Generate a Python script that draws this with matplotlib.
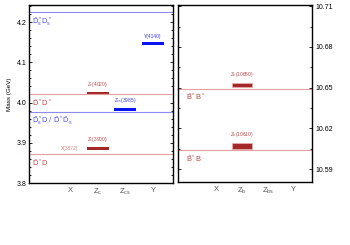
import numpy as np
import matplotlib.pyplot as plt
from matplotlib.ticker import MultipleLocator, FormatStrFormatter

plt.rcParams['font.family'] = ['Liberation Sans', 'DejaVu Sans']
plt.rcParams['mathtext.fontset'] = 'custom'
plt.rcParams['mathtext.rm'] = 'Liberation Sans'
plt.rcParams['mathtext.it'] = 'Liberation Sans'

# categories
charm_cats = ['X', r'$Z_c$', r'$Z_{cs}$', 'Y']
bottom_cats = ['X', r'$Z_b$', r'$Z_{bs}$', 'Y']

# thresholds (GeV)
charm_thr_names = [r'$\bar{D}^*_sD^*_s$', r'$\bar{D}^*D^*$', r'$\bar{D}^*_sD\ /\ \bar{D}^*\bar{D}_s$', r'$\bar{D}^*D$']
charm_thr_mass = [4.2244, 4.0201, 3.9773, 3.8719]
charm_thr_kind = ['s', 'n', 's', 'n']

bottom_thr_names = [r'$\bar{B}^*B^*$', r'$\bar{B}^*B$']
bottom_thr_mass = [10.6494, 10.6041]

# states
charm_states = ['X(3872)', r'$Z_c$(3900)', r'$Z_c$(4020)', r'$Z_{cs}$(3985)', 'Y(4140)']
charm_state_cat = [0, 1, 1, 2, 3]
charm_state_mass = [3.8717, 3.8866, 4.0229, 3.9825, 4.1465]
charm_state_err = [0.0012, 0.0035, 0.0028, 0.0035, 0.003]
charm_state_kind = ['x', 'n', 'n', 's', 's']

bottom_states = [r'$Z_b$(10610)', r'$Z_b$(10650)']
bottom_state_cat = [1, 1]
bottom_state_mass = [10.6072, 10.6522]
bottom_state_err = [0.0021, 0.0016]

line_col = {'s': '#8c8cf0', 'n': '#e4a0a0'}
txt_col = {'s': '#5050f0', 'n': '#c04848'}
bar_col = {'s': '#0a14f0', 'n': '#a52828', 'x': '#e8b0b0'}
lab_col = {'s': '#3a3ae8', 'n': '#c04848', 'x': '#d08080'}

fig = plt.figure(figsize=(3.5, 2.45), dpi=100)
ax1 = fig.add_axes([0.083, 0.253, 0.411, 0.727])
ax2 = fig.add_axes([0.509, 0.257, 0.383, 0.723])

xpos = np.arange(1, 5)

for ax in (ax1, ax2):
    ax.set_xlim(-0.48, 4.72)
    ax.tick_params(axis='y', which='both', direction='in', left=True, right=True,
                   labelsize=5, width=0.6, pad=2)
    ax.tick_params(axis='y', which='major', length=2.2)
    ax.tick_params(axis='y', which='minor', length=1.2)
    ax.tick_params(axis='x', length=0, labelsize=5.5, labelcolor='#555555', pad=3)
    ax.set_xticks(xpos)
    for s in ax.spines.values():
        s.set_linewidth(1.0)

# left panel
ax1.set_ylim(3.8, 4.2425)
ax1.yaxis.set_major_locator(MultipleLocator(0.1))
ax1.yaxis.set_minor_locator(MultipleLocator(0.02))
ax1.yaxis.set_major_formatter(FormatStrFormatter('%.1f'))
ax1.set_xticklabels(charm_cats)
ax1.set_ylabel('Mass (GeV)', fontsize=4.5, labelpad=3)

for name, m, k in zip(charm_thr_names, charm_thr_mass, charm_thr_kind):
    ax1.axhline(m, color=line_col[k], lw=0.8)
    ax1.annotate(name, xy=(0.02, m), xycoords=('axes fraction', 'data'),
                 xytext=(0, -2.5), textcoords='offset points', va='top', ha='left',
                 fontsize=5.4, color=txt_col[k])

for name, c, m, e, k in zip(charm_states, charm_state_cat, charm_state_mass,
                            charm_state_err, charm_state_kind):
    ax1.bar(xpos[c], 2 * e, bottom=m - e, width=0.8, color=bar_col[k], lw=0)
    ax1.annotate(name, xy=(xpos[c], m + e), xytext=(0, 2.2), textcoords='offset points',
                 ha='center', va='bottom', fontsize=3.5, color=lab_col[k])

# right panel
ax2.set_ylim(10.5805, 10.711)
ax2.yaxis.set_major_locator(MultipleLocator(0.03))
ax2.yaxis.set_minor_locator(MultipleLocator(0.015))
ax2.yaxis.set_major_formatter(FormatStrFormatter('%.2f'))
ax2.tick_params(axis='y', which='both', labelleft=False, labelright=True)
ax2.set_xticklabels(bottom_cats)

for name, m in zip(bottom_thr_names, bottom_thr_mass):
    ax2.axhline(m, color=line_col['n'], lw=0.8)
    ax2.annotate(name, xy=(0.06, m), xycoords=('axes fraction', 'data'),
                 xytext=(0, -2.5), textcoords='offset points', va='top', ha='left',
                 fontsize=5.4, color=txt_col['n'])

for name, c, m, e in zip(bottom_states, bottom_state_cat, bottom_state_mass, bottom_state_err):
    ax2.bar(xpos[c], 2 * e, bottom=m - e, width=0.8, color=bar_col['n'],
            edgecolor='#e8b0b0', lw=0.5)
    ax2.annotate(name, xy=(xpos[c], m + e), xytext=(0, 2.8), textcoords='offset points',
                 ha='center', va='bottom', fontsize=3.5, color=lab_col['n'])

fig.savefig('out.png', dpi=100)
